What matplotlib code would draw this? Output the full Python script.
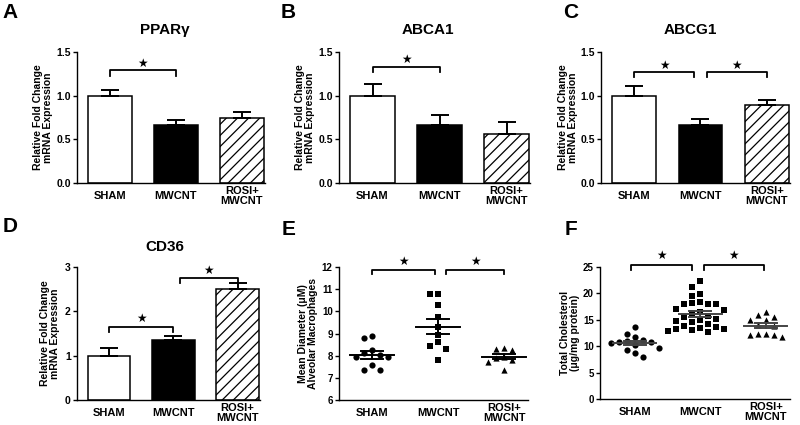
import matplotlib
matplotlib.use("Agg")
import matplotlib.pyplot as plt
import numpy as np

plt.rcParams['font.family'] = ['Liberation Sans', 'DejaVu Sans']
plt.rcParams['font.weight'] = 'bold'
plt.rcParams['hatch.linewidth'] = 0.9

groups = ["SHAM", "MWCNT", "ROSI+\nMWCNT"]

# bar panels: mean fold change and SEM
pparg_mean = [1.00, 0.66, 0.74]
pparg_sem = [0.07, 0.06, 0.07]
abca1_mean = [1.00, 0.66, 0.56]
abca1_sem = [0.13, 0.12, 0.14]
abcg1_mean = [1.00, 0.66, 0.89]
abcg1_sem = [0.11, 0.07, 0.06]
cd36_mean = [1.00, 1.35, 2.50]
cd36_sem = [0.17, 0.10, 0.14]

# scatter panels: individual values
diam_sham = [8.9, 8.8, 8.25, 8.1, 8.05, 7.95, 7.95, 7.6, 7.35, 7.35]
diam_mwcnt = [10.8, 10.8, 10.3, 9.75, 9.3, 8.95, 8.6, 8.45, 8.3, 7.8]
diam_rosi = [8.35, 8.3, 8.25, 7.95, 7.9, 7.8, 7.7, 7.35]

chol_sham = [13.6, 12.4, 11.7, 11.1, 10.9, 10.8, 10.8, 10.7, 10.2, 9.7, 9.3, 8.7, 7.9]
chol_mwcnt = [22.4, 21.3, 19.9, 19.6, 18.3, 18.1, 18.0, 18.0, 17.9, 17.1, 16.9, 16.5,
              16.2, 15.8, 15.5, 15.2, 15.0, 14.8, 14.6, 14.2, 13.9, 13.6, 13.4, 13.3,
              13.2, 13.1, 12.9, 12.6]
chol_rosi = [16.4, 16.0, 15.5, 15.0, 14.9, 14.1, 13.8, 12.4, 12.4, 12.1, 12.1, 11.8]

W, H = 800, 425
fig = plt.figure(figsize=(8, 4.25), dpi=100)


def make_axes(left, right, top, bottom):
    return fig.add_axes([left / W, 1 - bottom / H, (right - left) / W, (bottom - top) / H])


def style(ax, yticks, fmt, ylim, xlim=(-0.5, 2.35), ysize=7.5):
    for s in ['top', 'right']:
        ax.spines[s].set_visible(False)
    for s in ['left', 'bottom']:
        ax.spines[s].set_linewidth(1.0)
    ax.set_xlim(*xlim)
    ax.set_ylim(*ylim)
    ax.set_yticks(yticks)
    ax.set_yticklabels([fmt.format(t) for t in yticks], fontsize=ysize, fontweight='bold')
    ax.set_xticks(range(3))
    ax.set_xticklabels(groups, fontsize=8, fontweight='bold', linespacing=0.95)
    for lbl in ax.get_xticklabels():
        lbl.set_va('center')
    ax.tick_params(axis='x', length=0, pad=9.5)
    ax.tick_params(axis='y', length=3, width=1.0, pad=1.5)


def bracket(ax, x1, x2, y, tip, star_gap):
    ax.plot([x1, x1, x2, x2], [y - tip, y, y, y - tip], color='black', lw=1.3, clip_on=False)
    ax.text((x1 + x2) / 2, y + star_gap, "★", ha='center', va='center', fontsize=8.5,
            family=['DejaVu Sans'], clip_on=False)


def bar_panel(ax, means, sems):
    x = np.arange(3)
    bars = ax.bar(x, means, width=0.66, color=['white', 'black', 'white'],
                  edgecolor='black', linewidth=1.1, zorder=2)
    bars[2].set_hatch('///')
    ax.errorbar(x, means, yerr=[np.zeros(3), sems], fmt='none', ecolor='black',
                capsize=6.5, elinewidth=1.4, capthick=1.4, zorder=3)


def swarm(ax, values, center, marker, color):
    bb = ax.get_position()
    x0, x1 = ax.get_xlim()
    y0, y1 = ax.get_ylim()
    ppu_x = bb.width * W / (x1 - x0)
    ppu_y = bb.height * H / (y1 - y0)
    gap = 8.0
    placed = []
    xs = []
    for v in values:
        py = v * ppu_y
        for c in [0, -1, 1, -2, 2, -3, 3, -4, 4]:
            px = c * gap
            if all((px - qx) ** 2 + (py - qy) ** 2 >= (gap * 0.95) ** 2 for qx, qy in placed):
                break
        placed.append((px, py))
        xs.append(center + px / ppu_x)
    ax.scatter(xs, values, marker=marker, s=20, color='black', zorder=3, linewidths=0)
    m = np.mean(values)
    se = np.std(values, ddof=1) / np.sqrt(len(values))
    ax.plot([center - 0.33, center + 0.33], [m, m], color=color, lw=1.4, zorder=4)
    ax.plot([center - 0.17, center + 0.17], [m + se, m + se], color=color, lw=1.4, zorder=4)
    ax.plot([center - 0.17, center + 0.17], [m - se, m - se], color=color, lw=1.4, zorder=4)
    ax.plot([center, center], [m - se, m + se], color=color, lw=1.4, zorder=4)


rel_label = "Relative Fold Change\nmRNA Expression"

# A
axA = make_axes(77, 265, 52, 183)
bar_panel(axA, pparg_mean, pparg_sem)
style(axA, [0, 0.5, 1.0, 1.5], "{:.1f}", (0, 1.5))
bracket(axA, 0, 1, 1.29, 0.06, 0.08)

# B
axB = make_axes(339, 530, 52, 183)
bar_panel(axB, abca1_mean, abca1_sem)
style(axB, [0, 0.5, 1.0, 1.5], "{:.1f}", (0, 1.5))
bracket(axB, 0, 1, 1.33, 0.06, 0.09)

# C
axC = make_axes(601, 790, 52, 183)
bar_panel(axC, abcg1_mean, abcg1_sem)
style(axC, [0, 0.5, 1.0, 1.5], "{:.1f}", (0, 1.5))
bracket(axC, 0, 0.9, 1.27, 0.06, 0.08)
bracket(axC, 1.1, 2, 1.27, 0.06, 0.08)

# D
axD = make_axes(77, 260, 267, 400)
bar_panel(axD, cd36_mean, cd36_sem)
style(axD, [0, 1, 2, 3], "{:d}", (0, 3))
bracket(axD, 0, 1, 1.65, 0.12, 0.18)
bracket(axD, 1.1, 2, 2.75, 0.12, 0.18)

# E
axE = make_axes(339, 528, 267, 400)
style(axE, list(range(6, 13)), "{:d}", (6, 12), xlim=(-0.5, 2.36), ysize=7)
swarm(axE, diam_sham, 0, 'o', 'black')
swarm(axE, diam_mwcnt, 1, 's', 'black')
swarm(axE, diam_rosi, 2, '^', 'black')
bracket(axE, 0, 0.95, 11.86, 0.18, 0.4)
bracket(axE, 1.12, 2, 11.86, 0.18, 0.4)

# F
axF = make_axes(600, 790, 267, 399)
style(axF, list(range(0, 26, 5)), "{:d}", (0, 25), xlim=(-0.53, 2.37), ysize=7)
swarm(axF, chol_sham, 0, 'o', '#444444')
swarm(axF, chol_mwcnt, 1, 's', '#444444')
swarm(axF, chol_rosi, 2, '^', '#444444')
bracket(axF, -0.05, 0.87, 25.4, 1.0, 1.7)
bracket(axF, 1.05, 1.97, 25.4, 1.0, 1.7)

# y labels (right edge in pixels)
ylabels = [(axA, rel_label, 53), (axB, rel_label, 315), (axC, rel_label, 578),
           (axD, rel_label, 60), (axE, "Mean Diameter (\u03bcM)\nAlveolar Macrophages", 318),
           (axF, "Total Cholesterol\n(\u03bcg/mg protein)", 580)]
for ax, txt, xr in ylabels:
    ax.set_ylabel(txt, fontsize=7.5, fontweight='bold', linespacing=1.05)
    bb = ax.get_position()
    ax.yaxis.set_label_coords((xr / W - bb.x0) / bb.width, 0.5)

# titles
for txt, x, y in [("PPAR\u03b3", 165, 30), ("ABCA1", 428, 30), ("ABCG1", 690, 30), ("CD36", 165, 247)]:
    fig.text(x / W, 1 - y / H, txt, fontsize=11, fontweight='bold', ha='center', va='center')

# panel letters
for txt, x, y in [("A", 2, 13), ("B", 281, 12), ("C", 563, 12),
                  ("D", 3, 226), ("E", 282, 230), ("F", 565, 230)]:
    fig.text(x / W, 1 - y / H, txt, fontsize=15, fontweight='bold', ha='left', va='center')

fig.savefig("out.png", dpi=100)
